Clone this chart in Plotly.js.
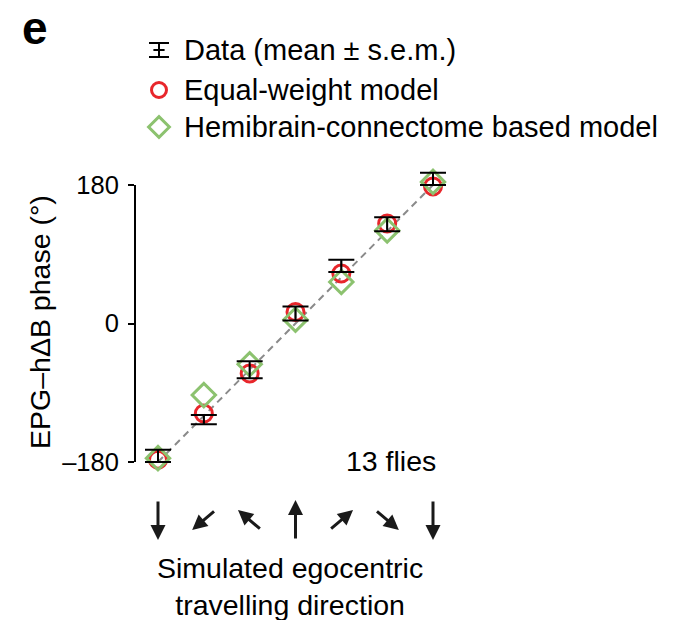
<!DOCTYPE html>
<html>
<head>
<meta charset="utf-8">
<script src="https://cdn.plot.ly/plotly-3.0.1.min.js"></script>
<style>html,body{margin:0;padding:0;background:#fff;}#chart{width:690px;height:620px;}</style>
</head>
<body>
<div id="chart"></div>
<script>
// ---- data ----
const directions = [-180, -120, -60, 0, 60, 120, 180];
const dataMean = [-172, -125, -60, 13, 75, 129, 188];
const dataSem = [8, 6, 11, 9, 8, 9, 8];
const equalWeight = [-177, -117, -65, 15, 65, 130, 178];
const hemibrain = [-175, -93, -53, 5, 54, 121, 184];
const yTickVals = [-180, 0, 180];
const yTickText = ['\u2013180', '0', '180'];
const legendLabels = ['Data (mean \u00b1 s.e.m.)', 'Equal-weight model', 'Hemibrain-connectome based model'];

// ---- geometry (page pixels) ----
const W = 690, H = 620;
const plotL = 135, plotR = 450, plotT = 162, plotB = 477;
const px = v => v / W;
const py = v => (H - v) / H;
const FONT = 'Liberation Sans, Arial, Helvetica, sans-serif';
const RED = '#e8262b';
const GREEN = '#8cc26f';

const traces = [
  { // identity line
    x: [directions[0], directions[directions.length - 1]],
    y: [directions[0], directions[directions.length - 1]],
    mode: 'lines', line: {color: '#8a8a8a', width: 2, dash: '7px,5px'},
    hoverinfo: 'skip', showlegend: false
  },
  {
    x: directions, y: equalWeight, mode: 'markers', name: legendLabels[1],
    marker: {symbol: 'circle-open', size: 17, color: RED, line: {width: 3, color: RED}},
    showlegend: false, cliponaxis: false
  },
  {
    x: directions, y: hemibrain, mode: 'markers', name: legendLabels[2],
    marker: {symbol: 'diamond-open', size: 18, color: GREEN, line: {width: 3, color: GREEN}},
    showlegend: false, cliponaxis: false
  },
  {
    x: directions, y: dataMean, mode: 'markers', name: legendLabels[0],
    marker: {symbol: 'line-ns-open', size: 7, color: '#000', line: {width: 1.5, color: '#000'}},
    error_y: {type: 'data', array: dataSem, visible: true, color: '#000', thickness: 2, width: 13},
    showlegend: false, cliponaxis: false
  },
  // legend icons on a full-page pixel subplot
  {
    x: [159], y: [50], xaxis: 'x2', yaxis: 'y2', mode: 'markers',
    marker: {symbol: 'line-ew-open', size: 8, color: '#000', line: {width: 2, color: '#000'}},
    error_y: {type: 'constant', value: 7, visible: true, color: '#000', thickness: 2, width: 10},
    showlegend: false, cliponaxis: false, hoverinfo: 'skip'
  },
  {
    x: [159], y: [90], xaxis: 'x2', yaxis: 'y2', mode: 'markers',
    marker: {symbol: 'circle-open', size: 15, color: RED, line: {width: 3, color: RED}},
    showlegend: false, cliponaxis: false, hoverinfo: 'skip'
  },
  {
    x: [159], y: [127], xaxis: 'x2', yaxis: 'y2', mode: 'markers',
    marker: {symbol: 'diamond-open', size: 16, color: GREEN, line: {width: 3, color: GREEN}},
    showlegend: false, cliponaxis: false, hoverinfo: 'skip'
  }
];

const annotations = [];
annotations.push({xref: 'paper', yref: 'paper', x: px(35), y: py(0), text: '<b>e</b>', showarrow: false,
  font: {family: FONT, size: 46, color: '#000'}, xanchor: 'center', yanchor: 'top'});
const legendY = [50, 90, 127];
legendLabels.forEach((t, i) => annotations.push({xref: 'paper', yref: 'paper', x: px(182), y: py(legendY[i]),
  text: t, showarrow: false, xanchor: 'left', yanchor: 'middle', font: {family: FONT, size: 29, color: '#000'}}));
annotations.push({xref: 'paper', yref: 'paper', x: px(40), y: py(322), text: 'EPG\u2013h\u0394B phase (\u00b0)',
  textangle: -90, showarrow: false, xanchor: 'center', yanchor: 'middle', font: {family: FONT, size: 28.5, color: '#000'}});
annotations.push({xref: 'paper', yref: 'paper', x: px(438), y: py(461), text: '13 flies', showarrow: false,
  xanchor: 'right', yanchor: 'middle', font: {family: FONT, size: 28.5, color: '#000'}});
annotations.push({xref: 'paper', yref: 'paper', x: px(290), y: py(586), text: 'Simulated egocentric<br>travelling direction',
  showarrow: false, xanchor: 'center', yanchor: 'middle', font: {family: FONT, size: 28.5, color: '#000'}});

// direction arrows
directions.forEach(d => {
  const r = d * Math.PI / 180;
  const sx = 27 * Math.sin(r), sy = 40 * Math.cos(r);
  annotations.push({xref: 'x', yref: 'paper', x: d, y: py(520), text: '', showarrow: true,
    xshift: sx / 2, yshift: sy / 2, axref: 'pixel', ayref: 'pixel', ax: -sx, ay: sy,
    arrowhead: 2, arrowsize: 1, arrowwidth: 3, arrowcolor: '#1a1a1a', standoff: 0, startstandoff: 0});
});

// axis scaling: -180 -> x 158, 180 -> x 433 ; y: 180 -> 185, -180 -> 462
const kx = (433 - 158) / 360, ky = (462 - 185) / 360;
const xRange = [-180 - (158 - plotL) / kx, -180 + (plotR - 158) / kx];
const yRange = [-180 - (plotB - 462) / ky, 180 + (185 - plotT) / ky];

const layout = {
  width: W, height: H, margin: {l: 0, r: 0, t: 0, b: 0, pad: 0},
  paper_bgcolor: '#fff', plot_bgcolor: 'rgba(0,0,0,0)',
  showlegend: false, font: {family: FONT, color: '#000'},
  xaxis: {domain: [plotL / W, plotR / W], range: xRange, visible: false, fixedrange: true, anchor: 'y'},
  yaxis: {domain: [(H - plotB) / H, (H - plotT) / H], range: yRange, anchor: 'x',
    tickvals: yTickVals, ticktext: yTickText, ticks: 'outside', ticklen: 6, tickwidth: 2,
    tickcolor: '#000', showline: false, showgrid: false, zeroline: false,
    tickfont: {family: FONT, size: 25.5, color: '#000'}, ticklabelstandoff: 4, fixedrange: true},
  xaxis2: {domain: [0, 1], range: [0, W], anchor: 'y2', visible: false, fixedrange: true},
  yaxis2: {domain: [0, 1], range: [H, 0], anchor: 'x2', visible: false, fixedrange: true},
  shapes: [{type: 'line', xref: 'paper', yref: 'y', x0: plotL / W, x1: plotL / W,
    y0: yTickVals[0], y1: yTickVals[yTickVals.length - 1], line: {color: '#000', width: 2}}],
  annotations: annotations
};

Plotly.newPlot('chart', traces, layout, {staticPlot: true, displayModeBar: false});
</script>
</body>
</html>
